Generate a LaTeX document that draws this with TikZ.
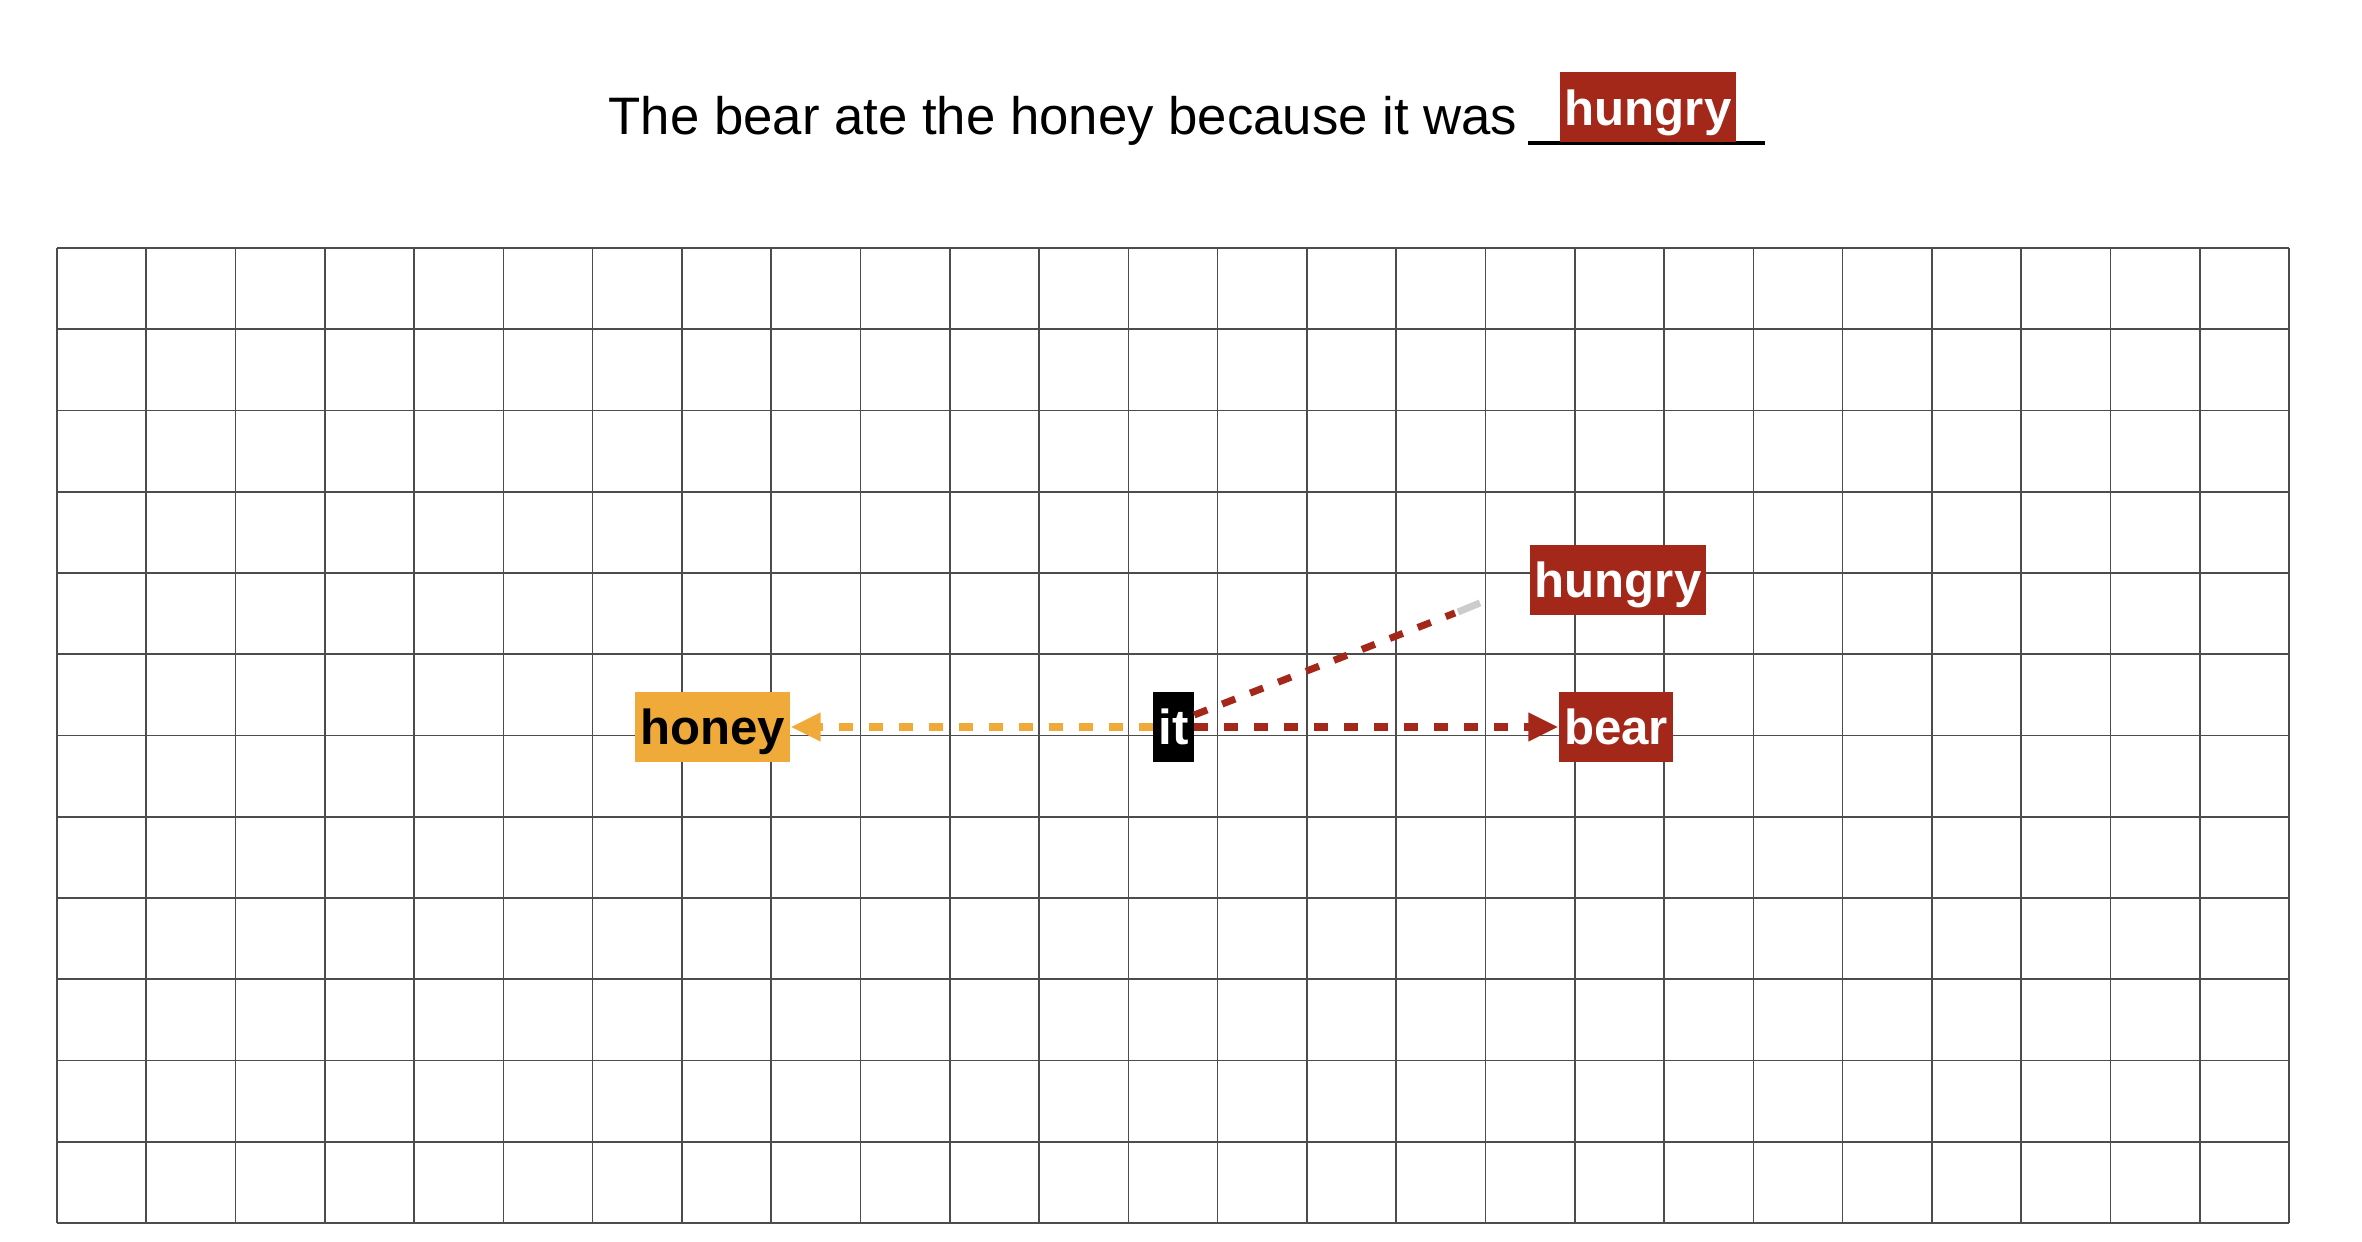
\documentclass[tikz,border=0pt]{standalone}
\usepackage{fontspec}
\setmainfont{Liberation Sans}
\usetikzlibrary{arrows.meta,calc}

\definecolor{bearred}{RGB}{163,40,26}
\definecolor{honeyorange}{RGB}{240,170,58}

\tikzset{
  gridline/.style={line width=0.45pt, black!70},
  wordbox/.style={inner xsep=0.05cm, inner ysep=0.09cm, text height=0.44cm, text depth=0.08cm,
    font=\fontsize{14pt}{16pt}\selectfont\bfseries},
  attn/.style={line width=2pt, dash pattern=on 0.14cm off 0.16cm},
  tip/.style={-{Triangle[length=0.3cm,width=0.27cm]}}
}

\begin{document}
\begin{tikzpicture}
      \useasboundingbox (0,0) rectangle (23.62,12.42);

      % sentence
      \node[anchor=base west, inner sep=0, font=\fontsize{15pt}{18pt}\selectfont] (sentence) at (6.08,11.07)
        {The bear ate the honey because it was};
      \coordinate (blankL) at (15.28,10.99);
      \coordinate (blankR) at (17.65,10.99);
      \draw[line width=0.9pt] (blankL) -- (blankR);
      \node[wordbox, fill=bearred, text=white, anchor=south] (answer) at (16.48,10.99) {hungry};

      % grid
      \foreach \i in {0,...,25}
        \draw[gridline] (0.57+\i*0.8928,0.19) -- ++(0,9.75);
      \foreach \j in {0,...,12}
        \draw[gridline] (0.57,0.19+\j*0.8125) -- ++(22.32,0);

      % words
      \node[wordbox, fill=honeyorange, text=black] (honey) at (7.125,5.15) {honey};
      \node[wordbox, fill=black, text=white] (it) at (11.735,5.15) {it};
      \node[wordbox, fill=bearred, text=white] (bear) at (16.16,5.15) {bear};
      \node[wordbox, fill=bearred, text=white] (hungry) at (16.18,6.62) {hungry};

      % attention
      \draw[attn, tip, honeyorange] (it.west) -- (honey.east);
      \draw[attn, tip, bearred] (it.east) -- (bear.west);
      \coordinate (fadeA) at (14.55,6.29);
      \coordinate (fadeB) at (14.80,6.39);
      \draw[attn, bearred] ($(it.east)+(0,0.12)$) -- (fadeA);
      \draw[line width=2pt, black!20] (fadeA) ++(0.03,0.01) -- (fadeB);

\end{tikzpicture}
\end{document}
